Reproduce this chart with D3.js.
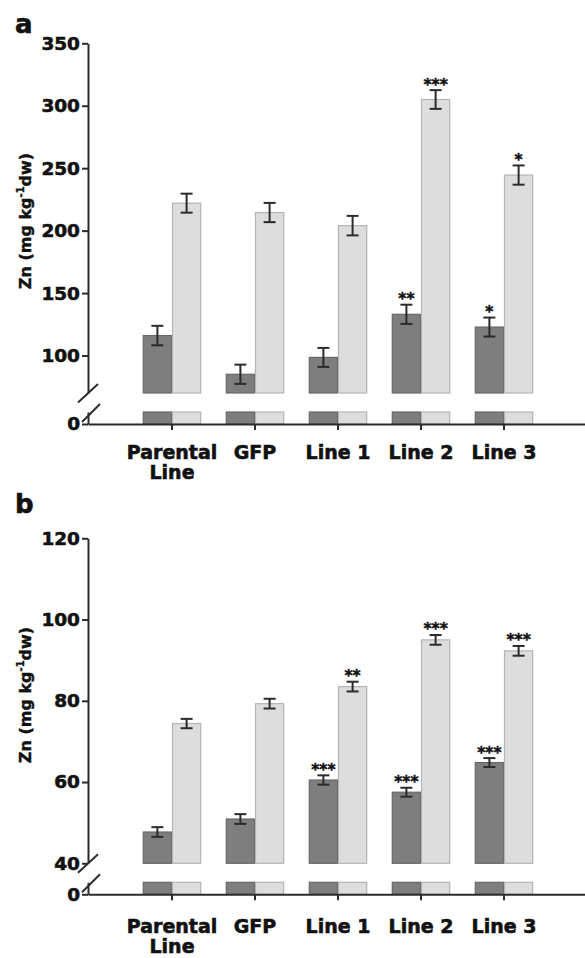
<!DOCTYPE html>
<html><head><meta charset="utf-8">
<script src="https://cdn.jsdelivr.net/npm/d3@7"></script>
<style>
html,body{margin:0;padding:0;background:#fff;}
svg{display:block;font-family:"DejaVu Sans",sans-serif;}
</style></head>
<body>
<svg id="chart" width="585" height="958"></svg>
<script>
const categories = ["Parental Line", "GFP", "Line 1", "Line 2", "Line 3"];
const series = ["dark", "light"];

const aDark = [116, 85, 98.5, 133, 122.8];
const aDarkErr = [7.8, 7.7, 7.6, 7.7, 7.6];
const aLight = [222, 214.5, 204, 305, 244.5];
const aLightErr = [7.6, 7.7, 7.8, 7.5, 7.7];
const aDarkSig = ["", "", "", "**", "*"];
const aLightSig = ["", "", "", "***", "*"];
const aTicks = [100, 150, 200, 250, 300, 350];

const bDark = [47.7, 50.9, 60.5, 57.5, 64.8];
const bDarkErr = [1.2, 1.2, 1.15, 1.1, 1.1];
const bLight = [74.4, 79.3, 83.5, 95, 92.3];
const bLightErr = [1.15, 1.2, 1.2, 1.2, 1.2];
const bDarkSig = ["", "", "***", "***", "***"];
const bLightSig = ["", "", "**", "***", "***"];
const bTicks = [40, 60, 80, 100, 120];

const svg = d3.select("#chart");
const AX = "#2b2b2b";
const TXT = "#111";
const fills = {dark: "#7e7e7e", light: "#dddddd"};
const strokes = {dark: "#686868", light: "#b4b4b4"};

function heavy(sel, w) {
  return sel.attr("font-weight", "bold").attr("fill", TXT).attr("stroke", TXT)
    .attr("stroke-width", w).attr("font-family", "DejaVu Sans");
}

function panel(o) {
  const g = svg.append("g");
  const x = d3.scaleBand().domain(categories).range([88, 588]).paddingInner(0.296).paddingOuter(0.66);
  const xs = d3.scaleBand().domain(series).range([0, x.bandwidth()]);
  const y = d3.scaleLinear().domain(o.domain).range([o.yBase, o.yTop]);
  const yZero = o.yBase + 31;
  const yLowTop = yZero - 12;

  // panel letter
  heavy(g.append("text").attr("x", 15).attr("y", o.letterY).attr("font-size", 26), 0.6).text(o.letter);

  // y-axis title
  const t = heavy(g.append("text").attr("transform", `translate(31,${o.titleY}) rotate(-90)`)
    .attr("text-anchor", "middle").attr("font-size", 16), 0.4);
  t.append("tspan").text("Zn (mg kg");
  t.append("tspan").attr("font-size", 10).attr("dy", -7).text("-1");
  t.append("tspan").attr("dy", 7).text("dw)");

  const rows = categories.map((c, i) => ({
    c,
    vals: [
      {s: "dark", v: o.dark[i], e: o.darkErr[i], sig: o.darkSig[i]},
      {s: "light", v: o.light[i], e: o.lightErr[i], sig: o.lightSig[i]}
    ]
  }));

  const grp = g.selectAll("g.grp").data(rows).join("g").attr("class", "grp")
    .attr("transform", d => `translate(${x(d.c)},0)`);

  grp.selectAll("rect.up").data(d => d.vals).join("rect").attr("class", "up")
    .attr("x", d => xs(d.s) + 0.5).attr("width", xs.bandwidth() - 1)
    .attr("y", d => y(d.v)).attr("height", d => o.yBase - y(d.v))
    .attr("fill", d => fills[d.s]).attr("stroke", d => strokes[d.s]).attr("stroke-width", 1.2);

  grp.selectAll("rect.low").data(d => d.vals).join("rect").attr("class", "low")
    .attr("x", d => xs(d.s) + 0.5).attr("width", xs.bandwidth() - 1)
    .attr("y", yLowTop).attr("height", yZero - yLowTop)
    .attr("fill", d => fills[d.s]).attr("stroke", d => strokes[d.s]).attr("stroke-width", 1.2);

  const eb = grp.selectAll("g.eb").data(d => d.vals).join("g").attr("class", "eb")
    .attr("transform", d => `translate(${xs(d.s) + xs.bandwidth() / 2},0)`);
  eb.append("line").attr("x1", 0).attr("x2", 0).attr("y1", d => y(d.v + d.e)).attr("y2", d => y(d.v - d.e))
    .attr("stroke", AX).attr("stroke-width", 2);
  eb.append("line").attr("x1", -6).attr("x2", 6).attr("y1", d => y(d.v + d.e)).attr("y2", d => y(d.v + d.e))
    .attr("stroke", AX).attr("stroke-width", 2);
  eb.append("line").attr("x1", -6).attr("x2", 6).attr("y1", d => y(d.v - d.e)).attr("y2", d => y(d.v - d.e))
    .attr("stroke", AX).attr("stroke-width", 2);
  heavy(eb.append("text").attr("text-anchor", "middle").attr("font-size", 15.5), 0.5)
    .attr("y", d => y(d.v + d.e) - 0.5).text(d => d.sig);

  const ya = g.append("g").attr("transform", "translate(88,0)")
    .call(d3.axisLeft(y).tickValues(o.ticks).tickSize(6).tickPadding(2).tickSizeOuter(0).tickFormat(d3.format("d")));
  ya.select(".domain").attr("stroke", AX).attr("stroke-width", 2);
  ya.selectAll(".tick line").attr("stroke", AX).attr("stroke-width", 2);
  heavy(ya.selectAll(".tick text").attr("font-size", 18.5), 0.6);

  const yl = d3.scaleLinear().domain([0, 1]).range([yZero, yLowTop]);
  const yla = g.append("g").attr("transform", "translate(88,0)")
    .call(d3.axisLeft(yl).tickValues([0]).tickSize(6).tickPadding(2).tickSizeOuter(0).tickFormat(d3.format("d")));
  yla.select(".domain").attr("stroke", AX).attr("stroke-width", 2);
  yla.selectAll(".tick line").attr("stroke", AX).attr("stroke-width", 2);
  heavy(yla.selectAll(".tick text").attr("font-size", 18.5), 0.6);

  g.append("line").attr("x1", 78).attr("y1", o.yBase + 9.5).attr("x2", 98).attr("y2", o.yBase - 9)
    .attr("stroke", AX).attr("stroke-width", 2);
  g.append("line").attr("x1", 82).attr("y1", yLowTop + 10).attr("x2", 100).attr("y2", yLowTop - 8)
    .attr("stroke", AX).attr("stroke-width", 2);

  const xa = g.append("g").attr("transform", `translate(0,${yZero})`)
    .call(d3.axisBottom(x).tickSize(6).tickSizeOuter(0).tickFormat(""));
  xa.select(".domain").attr("stroke", AX).attr("stroke-width", 2);
  xa.selectAll(".tick line").attr("stroke", AX).attr("stroke-width", 2);

  const lab = heavy(g.selectAll("text.cat").data(categories).join("text").attr("class", "cat")
    .attr("text-anchor", "middle").attr("font-size", 19), 0.6)
    .attr("transform", d => `translate(${x(d) + x.bandwidth() / 2},${yZero + o.labOff})`);
  lab.each(function(d) {
    const parts = d === "Parental Line" ? ["Parental", "Line"] : [d];
    d3.select(this).selectAll("tspan").data(parts).join("tspan")
      .attr("x", 0).attr("dy", (p, i) => i === 0 ? 0 : o.lineGap).text(p => p);
  });
}

panel({letter: "a", letterY: 33, titleY: 221, domain: [70, 350], yBase: 393, yTop: 43.3, ticks: aTicks,
  dark: aDark, darkErr: aDarkErr, light: aLight, lightErr: aLightErr, darkSig: aDarkSig, lightSig: aLightSig,
  labOff: 35, lineGap: 20});
panel({letter: "b", letterY: 513, titleY: 695, domain: [40, 120], yBase: 863.3, yTop: 538.3, ticks: bTicks,
  dark: bDark, darkErr: bDarkErr, light: bLight, lightErr: bLightErr, darkSig: bDarkSig, lightSig: bLightSig,
  labOff: 39, lineGap: 20});
</script>
</body></html>
